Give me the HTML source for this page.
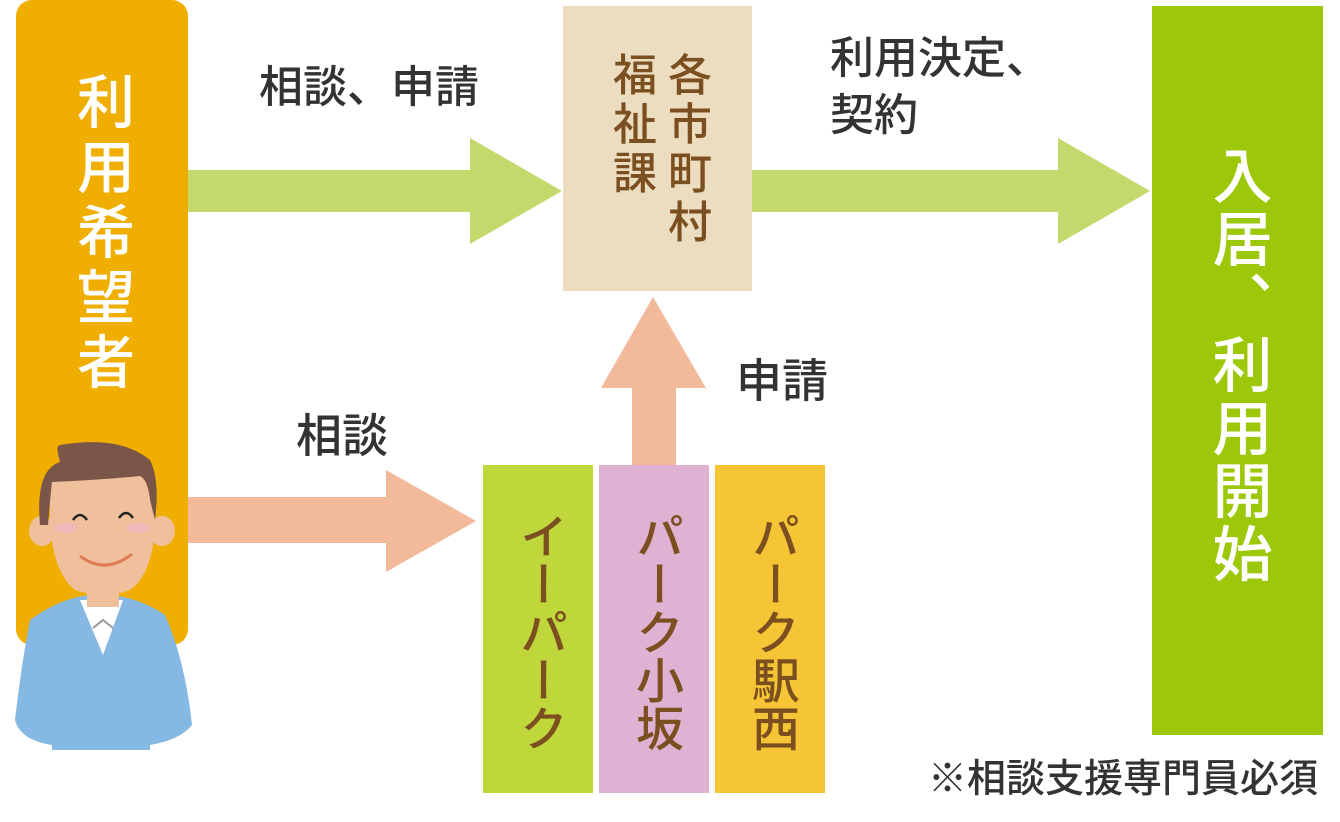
<!DOCTYPE html>
<html><head><meta charset="utf-8"><style>
body{margin:0;width:1340px;height:822px;background:#fff;position:relative;overflow:hidden;font-family:"Liberation Sans","Noto Sans CJK JP",sans-serif}
.a{position:absolute}
.v{writing-mode:vertical-rl;text-orientation:upright;position:absolute;font-weight:500;line-height:1}
.lbl{position:absolute;color:#333;font-size:44px;font-weight:500;white-space:nowrap;line-height:1}
</style></head><body>
<div class="a" style="left:16px;top:0;width:172px;height:645px;background:#f0ae00;border-radius:16px"></div>
<div class="v" style="left:71px;top:72px;font-size:58px;color:#fff;letter-spacing:7px">利用希望者</div>
<div class="a" style="left:563px;top:6px;width:189px;height:285px;background:#ecdcc0"></div>
<div class="v" style="left:663px;top:52px;font-size:44px;color:#7b4f1f;letter-spacing:5px">各市町村</div>
<div class="v" style="left:608px;top:52px;font-size:44px;color:#7b4f1f;letter-spacing:5px">福祉課</div>
<div class="a" style="left:1152px;top:6px;width:171px;height:729px;background:#9dc80a"></div>
<div class="v" style="left:1207px;top:145px;font-size:60px;color:#fff;letter-spacing:3px">入居、利用開始</div>
<div class="a" style="left:483px;top:465px;width:110px;height:328px;background:#c0d73c"></div>
<div class="a" style="left:599px;top:465px;width:110px;height:328px;background:#dfb2d3"></div>
<div class="a" style="left:715px;top:465px;width:110px;height:328px;background:#f5c535"></div>
<div class="v" style="left:514px;top:512px;font-size:48px;color:#7b4f1f">イーパーク</div>
<div class="v" style="left:630px;top:512px;font-size:48px;color:#7b4f1f">パーク小坂</div>
<div class="v" style="left:746px;top:512px;font-size:48px;color:#7b4f1f">パーク駅西</div>
<svg class="a" style="left:0;top:0" width="1340" height="822">
<polygon points="188,170 470,170 470,138 562,191 470,244 470,212 188,212" fill="#c3d96b"/>
<polygon points="752,170 1058,170 1058,138 1150,191 1058,244 1058,212 752,212" fill="#c3d96b"/>
<polygon points="188,497 386,497 386,470 476,521 386,572 386,543 188,543" fill="#f2b99b"/>
<polygon points="632,465 632,388 601,388 653,297 706,388 676,388 676,465" fill="#f2b99b"/>
<path d="M30,620 Q60,598 90,595 L110,595 Q140,598 165,615 Q185,660 192,725 Q180,740 150,745 L150,750 L52,750 L52,745 Q20,740 15,720 Q22,660 30,620Z" fill="#85b8e3"/>
<path d="M80,600 L123,600 L103,655Z" fill="#fff"/>
<path d="M93,628 L103,620 L113,628" stroke="#999" stroke-width="2" fill="none"/>
<rect x="87" y="585" width="32" height="22" fill="#f0c09c"/>
<ellipse cx="42" cy="531" rx="13" ry="15" fill="#f0c09c"/>
<ellipse cx="162" cy="531" rx="13" ry="15" fill="#f0c09c"/>
<path d="M50,485 Q50,455 100,452 Q152,455 155,500 Q158,570 130,590 Q103,600 75,590 Q50,570 50,510Z" fill="#f0c09c"/>
<path d="M40,525 Q35,470 60,462 Q55,445 60,445 Q120,435 150,460 Q160,480 155,520 L150,500 Q148,480 140,476 Q100,480 52,482 Q50,500 48,525Z" fill="#7a5648"/>
<ellipse cx="66" cy="528" rx="12" ry="5" fill="#f0b8b8"/>
<ellipse cx="138" cy="528" rx="12" ry="5" fill="#f0b8b8"/>
<path d="M73,520 Q80,510 87,520" stroke="#222" stroke-width="2.5" fill="none"/>
<path d="M119,518 Q126,508 133,518" stroke="#222" stroke-width="2.5" fill="none"/>
<path d="M80,556 Q105,575 132,554" stroke="#e07a55" stroke-width="3" fill="none"/>
</svg>
<div class="lbl" style="left:259px;top:66px">相談、申請</div>
<div class="lbl" style="left:830px;top:37px">利用決定、</div>
<div class="lbl" style="left:830px;top:94px">契約</div>
<div class="lbl" style="left:296px;top:413px;font-size:46px">相談</div>
<div class="lbl" style="left:736px;top:358px;font-size:46px">申請</div>
<div class="lbl" style="left:928px;top:760px;font-size:39px">※相談支援専門員必須</div>
</body></html>
